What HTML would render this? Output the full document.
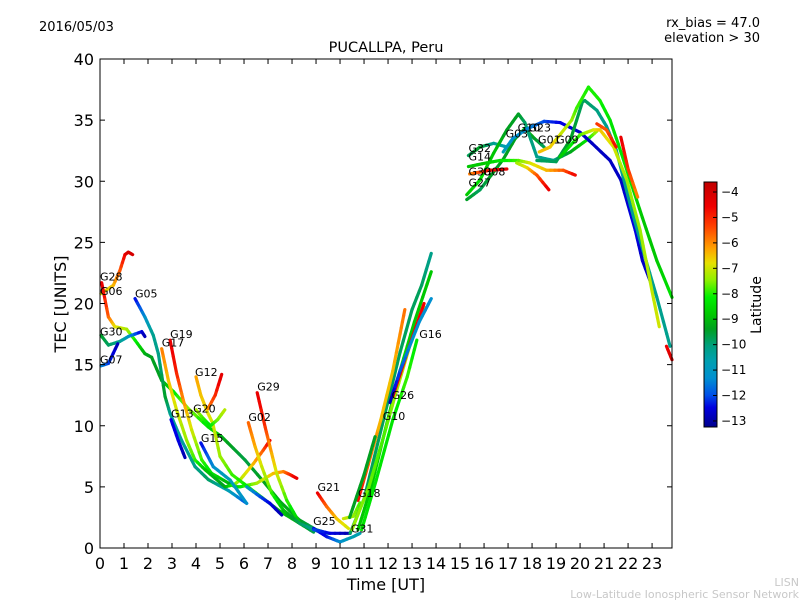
<!DOCTYPE html>
<html><head><meta charset="utf-8"><style>
html,body{margin:0;padding:0;background:#fff;}
svg{display:block;font-family:"DejaVu Sans","Liberation Sans",sans-serif;}
</style></head><body>
<svg id="chart" width="800" height="600" viewBox="0 0 800 600" xmlns="http://www.w3.org/2000/svg">
<defs>
<linearGradient id="cbgrad" x1="0" y1="1" x2="0" y2="0">
<stop offset="0" stop-color="#00008c"/><stop offset="0.08" stop-color="#0000e0"/><stop offset="0.13" stop-color="#0050e8"/><stop offset="0.2" stop-color="#0090d0"/><stop offset="0.27" stop-color="#00a0b0"/><stop offset="0.33" stop-color="#00a080"/><stop offset="0.4" stop-color="#00a020"/><stop offset="0.46" stop-color="#00c800"/><stop offset="0.53" stop-color="#00f000"/><stop offset="0.6" stop-color="#90f000"/><stop offset="0.67" stop-color="#e8e000"/><stop offset="0.73" stop-color="#ffa000"/><stop offset="0.82" stop-color="#ff4000"/><stop offset="0.9" stop-color="#f00000"/><stop offset="1" stop-color="#c00000"/>
</linearGradient>
</defs>
<text x="39" y="31" font-size="13">2016/05/03</text>
<text x="760" y="27" font-size="13" text-anchor="end">rx_bias = 47.0</text>
<text x="760" y="42" font-size="13" text-anchor="end">elevation &gt; 30</text>
<text x="386" y="52" font-size="14.5" text-anchor="middle">PUCALLPA, Peru</text>
<g id="plot"></g>
<g id="axes"></g>
<text x="386" y="590" font-size="16" text-anchor="middle">Time [UT]</text>
<text x="66" y="304" font-size="16" text-anchor="middle" transform="rotate(-90 66 304)">TEC [UNITS]</text>
<rect x="704" y="182" width="13" height="245" fill="url(#cbgrad)" stroke="#000" stroke-width="1"/>
<g id="cbticks"></g>
<text x="761" y="305" font-size="14" text-anchor="middle" transform="rotate(-90 761 305)">Latitude</text>
<text x="799" y="586" font-size="11" fill="#c8c8c8" text-anchor="end">LISN</text>
<text x="799" y="598" font-size="11" fill="#c8c8c8" text-anchor="end">Low-Latitude Ionospheric Sensor Network</text>
</svg>
<script>
// ---- data ----
const xTicks = [0,1,2,3,4,5,6,7,8,9,10,11,12,13,14,15,16,17,18,19,20,21,22,23];
const yTicks = [0,5,10,15,20,25,30,35,40];
const cbTicks = [-4,-5,-6,-7,-8,-9,-10,-11,-12,-13];
// each track: times (UT hours), tec values, latitudes
const tG28t=[0.04,0.56,0.83,1.04,1.18,1.36], tG28v=[20.8,21.5,22.7,24.0,24.2,24.0], tG28l=[-7,-6.5,-5.5,-4.5,-4,-4];
const tG06t=[0.07,0.35,0.62,1.11,1.46,1.87,2.15,2.57,3.06,3.68,4.51,5.07,6.04,6.74,7.5,8.3,9.0,9.5], tG06v=[21.7,18.9,18.1,17.9,17.0,15.9,15.6,13.7,12.8,11.4,9.9,9.1,7.2,5.6,3.8,2.3,1.5,1.2], tG06l=[-4.2,-5.5,-6.8,-7.3,-8.2,-9.3,-9.5,-9.5,-8.5,-7.5,-8.5,-9.3,-9.8,-9.5,-9.3,-9.5,-10,-10.5];
const tG30t=[0.04,0.35,0.83,1.18,1.74,1.87], tG30v=[17.4,16.6,16.9,17.3,17.7,17.3], tG30l=[-9.5,-10,-10.5,-11.2,-12.5,-13];
const tG07t=[0.04,0.35,0.74], tG07v=[14.9,15.1,16.7], tG07l=[-11.5,-12,-13];
const tG05t=[1.46,1.87,2.22,2.43,2.71,2.92,3.4,3.96,4.51,5.35,6.11], tG05v=[20.4,18.9,17.4,15.9,12.4,11.0,8.8,6.65,5.6,4.7,3.65], tG05l=[-12.5,-11.5,-10.5,-10.5,-9.5,-10.5,-10.8,-10.5,-10,-11,-12];
const tG19t=[2.92,3.19,3.47,3.82,4.24,4.65,5.63,5.83,6.53,7.22,7.64,7.92,8.2], tG19v=[17.0,14.3,12.1,9.65,7.2,6.1,5.0,5.0,5.3,6.1,6.25,6.0,5.7], tG19l=[-4.3,-4.8,-6,-7,-8,-8.5,-9.5,-8.5,-7.5,-6.5,-6,-5,-4.3];
const tG17t=[2.57,2.85,3.19,3.61,3.96,4.38,5.21,5.6,5.83,6.39,6.8,7.08], tG17v=[16.3,13.7,11.3,8.8,7.2,6.4,5.0,5.2,5.56,6.9,8.0,8.8], tG17l=[-5.8,-6.5,-7,-7.5,-8,-9,-9.5,-8,-7.3,-6.5,-5.5,-4.3];
const tG12t=[4.0,4.2,4.5,4.7,5.0,5.5,6.5,7.5,8.5,9.2], tG12v=[14.0,12.5,11.0,10.2,7.5,6.0,4.5,3.0,1.8,1.3], tG12l=[-6.2,-6.5,-6.8,-7,-7.5,-8,-8.5,-9,-9.5,-10];
const tG12bt=[4.5,4.8,5.07], tG12bv=[11.4,12.5,14.2], tG12bl=[-6,-5,-4.2];
const tG20t=[4.0,4.3,4.6,4.9,5.2], tG20v=[11.3,10.6,10.0,10.5,11.3], tG20l=[-7.2,-8,-8.5,-7.8,-7.2];
const tG13t=[2.96,3.26,3.54], tG13v=[10.5,8.8,7.4], tG13l=[-12.5,-12.5,-13];
const tG15t=[4.2,4.72,5.42,6.11], tG15v=[8.6,6.65,5.56,3.65], tG15l=[-12.5,-11.5,-11,-11.5];
const tXAt=[6.11,6.67,7.08,7.57], tXAv=[5.0,4.2,3.65,2.7], tXAl=[-11,-12,-12.5,-13];
const tG29t=[6.55,6.88,7.08,7.36,7.78,8.33,8.9], tG29v=[12.7,9.9,8.3,6.1,3.9,2.0,1.3], tG29l=[-4.3,-5,-6,-7,-8,-9,-10];
const tG02t=[6.18,6.46,6.74,7.15,7.64,8.33,8.9], tG02v=[10.25,8.3,6.65,4.5,3.1,2.0,1.5], tG02l=[-5.5,-6.3,-7,-8,-9,-10,-10.5];
const tG25t=[8.9,9.44,10.0,10.56,10.83], tG25v=[1.6,0.93,0.5,0.93,1.2], tG25l=[-12.5,-12.5,-11.5,-11,-11];
const tG31t=[8.9,9.58,10.42], tG31v=[1.5,1.2,1.2], tG31l=[-12,-12.5,-13];
const tG21t=[9.06,9.44,9.86,10.35], tG21v=[4.5,3.4,2.4,1.6], tG21l=[-4.3,-5.5,-6.5,-7];
const tG18t=[10.14,10.56,10.83], tG18v=[2.4,2.6,3.7], tG18l=[-7,-7.5,-8];
const tR1t=[10.42,11.0,11.5,12.0,12.5,13.0,13.4,13.8], tR1v=[1.2,4,8,12,16,19.5,21.5,24.1], tR1l=[-10,-10,-10,-10,-10,-10,-10,-10.5];
const tR2t=[10.75,11.3,11.9,12.5,13.1,13.8], tR2v=[1.5,5,9.8,14.5,18.5,22.6], tR2l=[-9,-9,-9,-8.5,-9,-9];
const tR3t=[10.5,11.2,11.8,12.3,12.9,13.5], tR3v=[1.5,5,9,12.5,16.5,19.7], tR3l=[-7.5,-7.8,-8,-7.5,-7,-7];
const tR4t=[10.75,11.2,11.7,12.2,12.5,12.7], tR4v=[3.9,7,10.5,14.5,17.5,19.5], tR4l=[-4.5,-5.5,-6.5,-6.5,-6,-5.7];
const tR5t=[12.2,12.8,13.5], tR5v=[12.4,16,20.0], tR5l=[-4.5,-4.5,-4.5];
const tR6t=[12.08,12.5,13.0,13.3,13.8], tR6v=[11.9,14.5,17.0,18.5,20.4], tR6l=[-13,-12,-11.5,-11.5,-11.5];
const tR7t=[10.4,11.0,11.46], tR7v=[2.5,6,9.1], tR7l=[-9.5,-9.5,-9.5];
const tR8t=[10.9,11.5,12.2,12.8,13.2], tR8v=[1.5,5.5,10.5,14,17], tR8l=[-8.5,-8.5,-8.5,-8,-8.5];
const tD1t=[15.28,15.83,16.4,16.95,17.43,17.7,18.2,18.9,19.6,20.3,20.7], tD1v=[28.9,30.1,32.3,34.2,35.5,34.8,32.0,31.7,32.4,33.4,34.1], tD1l=[-9,-8.5,-9,-9.5,-9.5,-10,-10.5,-10.5,-9.5,-8.5,-7.5];
const tD2t=[16.8,17.2,17.8,18.5,19.17,20.0,20.5,21.25,21.7,22.3,22.6,23.1], tD2v=[32.4,33.5,34.3,34.9,34.8,34.0,33.1,31.7,30.1,26,23.5,20.9], tD2l=[-11,-11.5,-11.5,-12,-12.5,-12.8,-12.8,-12.8,-12.8,-12.5,-12.8,-12.8];
const tD3t=[18.3,18.75,19.65,19.86,20.35,20.83,21.25,21.6,22.1,22.6,23.2,23.83], tD3v=[32.4,32.8,35.0,36.0,37.7,36.6,35.0,33,30,27,23.5,20.5], tD3l=[-6.5,-6.5,-7.5,-8,-8.2,-8.2,-8.5,-8.5,-8.5,-9,-9,-8.5];
const tD4t=[18.2,19.0,19.6,20.1,20.2,20.7,21.1,21.5,22.1,22.6,23.2,23.75], tD4v=[31.7,31.6,33.4,36.5,36.6,35.8,34.5,32.6,28,24.5,20.5,16.5], tD4l=[-10,-10,-9.5,-10,-10,-10.3,-10.5,-10.5,-10.5,-10.5,-10.5,-10.5];
const tD5t=[19.17,20.0,20.55,20.83,21.4,21.95,22.5,23.0,23.3], tD5v=[32,33.8,34.2,34.2,32.8,30.1,26,21,18.1], tD5l=[-9,-8,-7,-6.5,-7,-7.5,-7.5,-7.2,-7];
const tD6t=[20.7,21.1,21.5], tD6v=[34.7,34.2,32.8], tD6l=[-5,-5.5,-4.5];
const tD7t=[21.7,22.0,22.4], tD7v=[33.6,31,28.7], tD7l=[-4.3,-5,-6];
const tD8t=[23.6,23.83], tD8v=[16.5,15.4], tD8l=[-4.5,-4];
const tD9t=[15.35,16.1,16.67,17.43,17.9,18.6,19.3,19.8], tD9v=[31.2,31.5,31.7,31.7,31.5,30.9,30.9,30.5], tD9l=[-9,-9,-8.5,-8,-7,-6.5,-5.5,-4.5];
const tD10t=[15.4,16.25,16.95], tD10v=[30.6,30.9,31.0], tD10l=[-6,-4.5,-4.3];
const tD11t=[17.36,17.8,18.2,18.7], tD11v=[31.5,31.1,30.5,29.3], tD11l=[-7.5,-6.8,-5.5,-4.3];
const tD12t=[15.28,15.83,16.3,16.8,17.3,17.7,18.1,18.5], tD12v=[28.5,29.3,30.5,31.8,33.5,34.3,33.5,32.8], tD12l=[-9.5,-10,-9.5,-9.5,-9.5,-9,-9.5,-10];
const tD13t=[15.35,15.83,16.4,16.95], tD13v=[32.1,32.8,33.1,32.8], tD13l=[-10,-9.5,-10.5,-11];
const tracks=[[tG28t,tG28v,tG28l],[tG06t,tG06v,tG06l],[tG30t,tG30v,tG30l],[tG07t,tG07v,tG07l],[tG05t,tG05v,tG05l],[tG19t,tG19v,tG19l],[tG17t,tG17v,tG17l],[tG12t,tG12v,tG12l],[tG12bt,tG12bv,tG12bl],[tG20t,tG20v,tG20l],[tG13t,tG13v,tG13l],[tG15t,tG15v,tG15l],[tXAt,tXAv,tXAl],[tG29t,tG29v,tG29l],[tG02t,tG02v,tG02l],[tG25t,tG25v,tG25l],[tG31t,tG31v,tG31l],[tG21t,tG21v,tG21l],[tG18t,tG18v,tG18l],[tR1t,tR1v,tR1l],[tR2t,tR2v,tR2l],[tR3t,tR3v,tR3l],[tR4t,tR4v,tR4l],[tR5t,tR5v,tR5l],[tR6t,tR6v,tR6l],[tR7t,tR7v,tR7l],[tR8t,tR8v,tR8l],[tD12t,tD12v,tD12l],[tD13t,tD13v,tD13l],[tD1t,tD1v,tD1l],[tD2t,tD2v,tD2l],[tD4t,tD4v,tD4l],[tD3t,tD3v,tD3l],[tD5t,tD5v,tD5l],[tD6t,tD6v,tD6l],[tD7t,tD7v,tD7l],[tD8t,tD8v,tD8l],[tD9t,tD9v,tD9l],[tD10t,tD10v,tD10l],[tD11t,tD11v,tD11l]];
const satNames=["G28","G06","G30","G07","G05","G19","G17","G12","G29","G20","G13","G02","G15","G21","G18","G25","G31","G26","G10","G16","G32","G14","G30","G08","G27","G03","G10","G23","G01","G09"];
const satT=[0.0,0.0,0.0,0.0,1.46,2.92,2.57,3.96,6.55,3.88,2.96,6.18,4.2,9.06,10.75,8.88,10.45,12.15,11.78,13.3,15.35,15.35,15.35,15.95,15.35,16.9,17.4,17.85,18.25,19.0];
const satV=[21.8,20.6,17.3,15.0,20.4,17.1,16.4,14.0,12.8,11.0,10.6,10.3,8.6,4.6,4.1,1.8,1.2,12.1,10.4,17.1,32.3,31.6,30.4,30.4,29.5,33.5,34.0,34.0,33.0,33.0];
// ---- scales ----
const X0=100,X1=672,Y0=548,Y1=59,XMAX=23.83,YMAX=40;
const sx=t=>X0+t*(X1-X0)/XMAX;
const sy=v=>Y0-v*(Y0-Y1)/YMAX;
const cbY=l=>192+(-4-l)*25.44;
const stops=[[-13.3,[0,0,140]],[-12.5,[0,0,230]],[-12,[0,80,232]],[-11.5,[0,144,208]],[-11,[0,160,176]],[-10.3,[0,160,128]],[-9.5,[0,160,32]],[-9,[0,200,0]],[-8.3,[0,240,0]],[-7.6,[144,240,0]],[-6.8,[232,224,0]],[-6.2,[255,160,0]],[-5.2,[255,64,0]],[-4.5,[240,0,0]],[-3.6,[192,0,0]]];
function col(l){
  if(l<=stops[0][0])return 'rgb('+stops[0][1]+')';
  for(let i=1;i<stops.length;i++){if(l<=stops[i][0]){const a=stops[i-1],b=stops[i],f=(l-a[0])/(b[0]-a[0]);
    return 'rgb('+a[1].map((c,k)=>Math.round(c+(b[1][k]-c)*f)).join(',')+')';}}
  return 'rgb('+stops[stops.length-1][1]+')';
}
const NS='http://www.w3.org/2000/svg';
const plot=document.getElementById('plot');
tracks.forEach((tr,ti)=>{
  const g=document.createElementNS(NS,'g');
  
  
  const [T,V,L]=tr;
  for(let i=0;i<T.length-1;i++){
    const n=4;
    for(let k=0;k<n;k++){
      const f0=k/n,f1=(k+1)/n,fm=(k+0.5)/n;
      const ln=document.createElementNS(NS,'line');
      
      
      ln.setAttribute('x1',sx(T[i]+(T[i+1]-T[i])*f0));ln.setAttribute('y1',sy(V[i]+(V[i+1]-V[i])*f0));
      ln.setAttribute('x2',sx(T[i]+(T[i+1]-T[i])*f1));ln.setAttribute('y2',sy(V[i]+(V[i+1]-V[i])*f1));
      ln.setAttribute('stroke',col(L[i]+(L[i+1]-L[i])*fm));
      ln.setAttribute('stroke-width','3.2');ln.setAttribute('stroke-linecap','round');
      g.appendChild(ln);
    }
  }
  plot.appendChild(g);
});
satNames.forEach((nm,i)=>{
  const tx=document.createElementNS(NS,'text');
  
  
  tx.setAttribute('x',sx(satT[i]));tx.setAttribute('y',sy(satV[i])-1);
  tx.setAttribute('font-size','11');tx.textContent=nm;
  plot.appendChild(tx);
});
const axes=document.getElementById('axes');
function add(tag,attrs,name,text){const e=document.createElementNS(NS,tag);for(const k in attrs)e.setAttribute(k,attrs[k]);
  
  
  if(text!==undefined)e.textContent=text;axes.appendChild(e);return e;}
add('rect',{x:X0,y:Y1,width:X1-X0,height:Y0-Y1,fill:'none',stroke:'#000','stroke-width':1},'plot-frame');
xTicks.forEach(t=>{const x=sx(t);
  add('line',{x1:x,y1:Y0,x2:x,y2:Y0-5,stroke:'#000'},'x-tick');
  add('line',{x1:x,y1:Y1,x2:x,y2:Y1+5,stroke:'#000'},'x-tick-top');
  add('text',{x:x,y:Y0+21,'font-size':16,'text-anchor':'middle'},'x-tick-label',String(t));});
yTicks.forEach(v=>{const y=sy(v);
  add('line',{x1:X0,y1:y,x2:X0+5,y2:y,stroke:'#000'},'y-tick');
  add('line',{x1:X1,y1:y,x2:X1-5,y2:y,stroke:'#000'},'y-tick-right');
  add('text',{x:X0-6,y:y+6,'font-size':16,'text-anchor':'end'},'y-tick-label',String(v));});
const cbg=document.getElementById('cbticks');
cbTicks.forEach(l=>{const y=cbY(l);
  const ln=document.createElementNS(NS,'line');
  
  
  ln.setAttribute('x1',713);ln.setAttribute('x2',717);ln.setAttribute('y1',y);ln.setAttribute('y2',y);ln.setAttribute('stroke','#000');
  cbg.appendChild(ln);
  const tx=document.createElementNS(NS,'text');
  
  
  tx.setAttribute('x',721);tx.setAttribute('y',y+4);tx.setAttribute('font-size','12');
  tx.textContent='\u2212'+Math.abs(l);
  cbg.appendChild(tx);
});
</script>
</body></html>
